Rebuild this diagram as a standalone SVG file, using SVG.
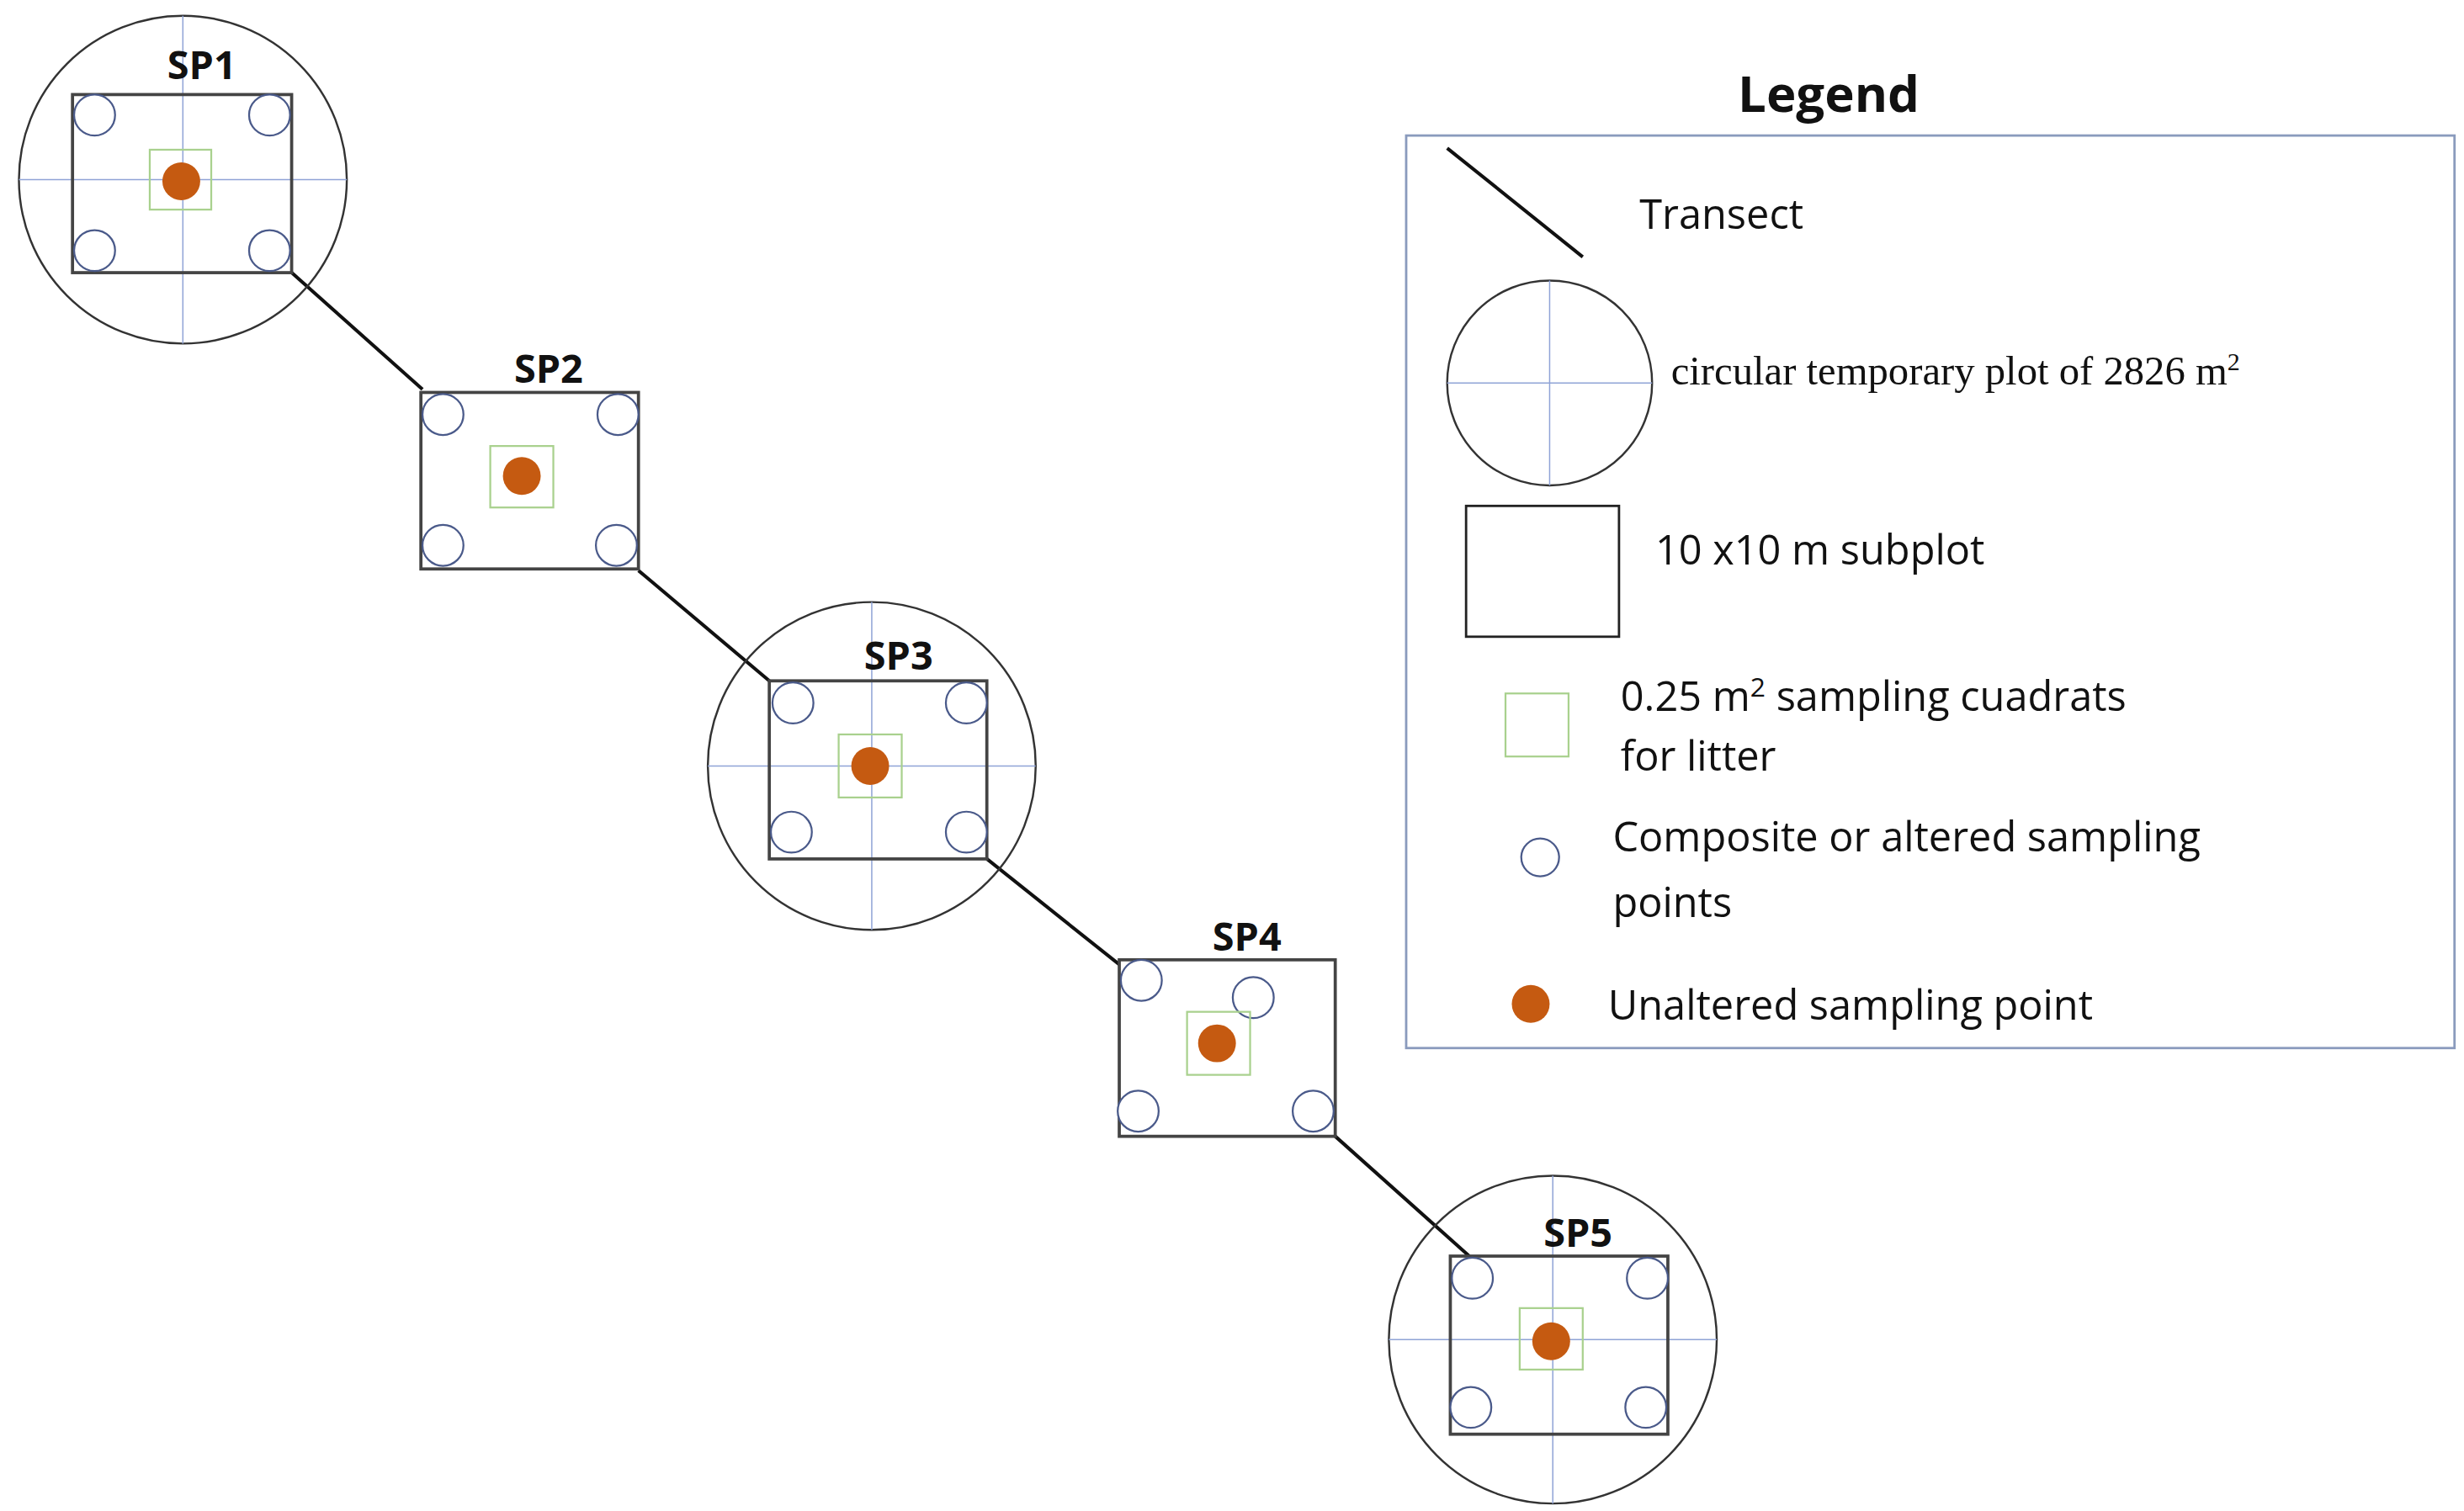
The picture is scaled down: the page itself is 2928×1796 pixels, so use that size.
<svg xmlns="http://www.w3.org/2000/svg" width="2928" height="1796" viewBox="0 0 2928 1796">
<style>
.big{fill:none;stroke:#333;stroke-width:1.3}
.cross{stroke:#8fa3d6;stroke-width:0.8}
.sub{fill:none;stroke:#444;stroke-width:2}
.pt{fill:#fff;stroke:#4a5a8a;stroke-width:1.2}
.quad{fill:none;stroke:#a9d18e;stroke-width:1.2}
.dot{fill:#c55a11}
.tr{stroke:#111;stroke-width:2.2}
.lbl{font-family:"Open Sans","Liberation Sans",sans-serif;font-weight:bold;font-size:25px;fill:#111;text-anchor:middle}
.lt{font-family:"Open Sans","Liberation Sans",sans-serif;font-size:26px;fill:#111}
.ser{font-family:"Liberation Serif",serif;font-size:26px;fill:#111}
</style>
<rect width="2928" height="1796" fill="#fff"/>
<g transform="scale(1.8733)">
<g id="connectors">
<line class="tr" x1="185" y1="173" x2="268" y2="247"/>
<line class="tr" x1="405" y1="362" x2="488" y2="432"/>
<line class="tr" x1="626" y1="545" x2="710" y2="612"/>
<line class="tr" x1="847" y1="721" x2="932" y2="797"/>
</g>
<g id="SP1">
<circle class="big" cx="116" cy="114" r="104"/>
<line class="cross" x1="12" y1="114" x2="220" y2="114"/><line class="cross" x1="116" y1="10" x2="116" y2="218"/>
<rect class="sub" x="46" y="60" width="139" height="113"/>
<circle class="pt" cx="60" cy="73" r="13"/><circle class="pt" cx="171" cy="73" r="13"/><circle class="pt" cx="60" cy="159" r="13"/><circle class="pt" cx="171" cy="159" r="13"/>
<rect class="quad" x="95" y="95" width="39" height="38"/><circle class="dot" cx="115" cy="115" r="12"/>
<text class="lbl" x="128" y="50">SP1</text>
</g>
<g id="SP2">
<rect class="sub" x="267" y="249" width="138" height="112"/>
<circle class="pt" cx="281" cy="263" r="13"/><circle class="pt" cx="392" cy="263" r="13"/><circle class="pt" cx="281" cy="346" r="13"/><circle class="pt" cx="391" cy="346" r="13"/>
<rect class="quad" x="311" y="283" width="40" height="39"/><circle class="dot" cx="331" cy="302" r="12"/>
<text class="lbl" x="348" y="243">SP2</text>
</g>
<g id="SP3">
<circle class="big" cx="553" cy="486" r="104"/>
<line class="cross" x1="449" y1="486" x2="657" y2="486"/><line class="cross" x1="553" y1="382" x2="553" y2="590"/>
<rect class="sub" x="488" y="432" width="138" height="113"/>
<circle class="pt" cx="503" cy="446" r="13"/><circle class="pt" cx="613" cy="446" r="13"/><circle class="pt" cx="502" cy="528" r="13"/><circle class="pt" cx="613" cy="528" r="13"/>
<rect class="quad" x="532" y="466" width="40" height="40"/><circle class="dot" cx="552" cy="486" r="12"/>
<text class="lbl" x="570" y="425">SP3</text>
</g>
<g id="SP4">
<rect class="sub" x="710" y="609" width="137" height="112"/>
<circle class="pt" cx="724" cy="622" r="13"/><circle class="pt" cx="795" cy="633" r="13"/><circle class="pt" cx="722" cy="705" r="13"/><circle class="pt" cx="833" cy="705" r="13"/>
<rect class="quad" x="753" y="642" width="40" height="40"/><circle class="dot" cx="772" cy="662" r="12"/>
<text class="lbl" x="791" y="603">SP4</text>
</g>
<g id="SP5">
<circle class="big" cx="985" cy="850" r="104"/>
<line class="cross" x1="881" y1="850" x2="1089" y2="850"/><line class="cross" x1="985" y1="746" x2="985" y2="954"/>
<rect class="sub" x="920" y="797" width="138" height="113"/>
<circle class="pt" cx="934" cy="811" r="13"/><circle class="pt" cx="1045" cy="811" r="13"/><circle class="pt" cx="933" cy="893" r="13"/><circle class="pt" cx="1044" cy="893" r="13"/>
<rect class="quad" x="964" y="830" width="40" height="39"/><circle class="dot" cx="984" cy="851" r="12"/>
<text class="lbl" x="1001" y="791">SP5</text>
</g>
<g id="legend">
<text class="lbl" x="1160" y="71" style="font-size:32px">Legend</text>
<rect x="892" y="86" width="665" height="579" fill="none" stroke="#8a9bbd" stroke-width="1.5"/>
<line class="tr" x1="918" y1="94" x2="1004" y2="163"/>
<text class="lt" x="1040" y="145">Transect</text>
<circle class="big" cx="983" cy="243" r="65"/>
<line class="cross" x1="918" y1="243" x2="1048" y2="243"/><line class="cross" x1="983" y1="178" x2="983" y2="308"/>
<text class="ser" x="1060" y="244">circular temporary plot of 2826 m<tspan dy="-9" font-size="16">2</tspan></text>
<rect class="sub" x="930" y="321" width="97" height="83" style="stroke-width:1.5;stroke:#222"/>
<text class="lt" x="1050" y="358">10 x10 m subplot</text>
<rect class="quad" x="955" y="440" width="40" height="40"/>
<text class="lt" x="1028" y="451">0.25 m<tspan dy="-9" font-size="17">2</tspan><tspan dy="9">  sampling cuadrats</tspan></text>
<text class="lt" x="1028" y="489">for litter</text>
<circle class="pt" cx="977" cy="544" r="12"/>
<text class="lt" x="1023" y="540">Composite or altered sampling</text>
<text class="lt" x="1023" y="582">points</text>
<circle class="dot" cx="971" cy="637" r="12"/>
<text class="lt" x="1020" y="647">Unaltered sampling point</text>
</g>
</g>
</svg>
